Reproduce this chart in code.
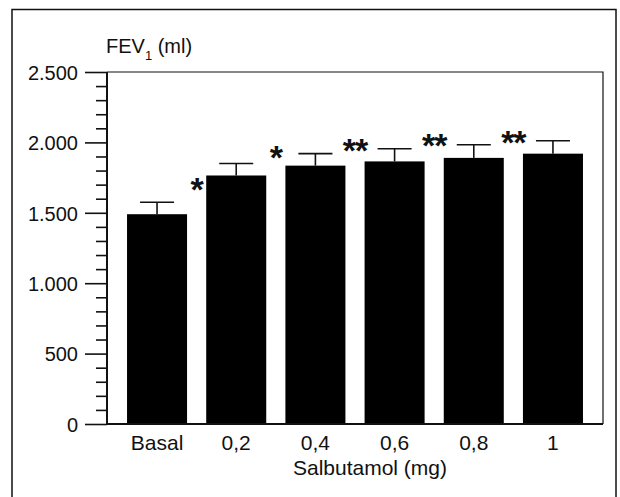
<!DOCTYPE html>
<html lang="en">
  <head>
    <meta charset="UTF-8" />
    <title>FEV1 Salbutamol</title>
    <script src="https://cdn.jsdelivr.net/npm/d3@7"></script>
    <style>
      html,
      body {
        margin: 0;
        padding: 0;
        background: #fff;
      }
      text {
        font-family: 'Liberation Sans', Arial, sans-serif;
        font-size: 21px;
        fill: #111;
      }
    </style>
  </head>
  <body>
    <script>
      // doses and mean FEV1 (ml) with SEM
      const doses = ['Basal', '0,2', '0,4', '0,6', '0,8', '1'];
      const fev1 = [1490, 1765, 1835, 1865, 1890, 1920];
      const sem = [85, 85, 85, 90, 93, 92];
      // significance marks and the level (ml) where each one sits
      const signif = ['', '*', '*', '**', '**', '**'];
      const signifLevel = [0, 1720, 1945, 1995, 2030, 2055];
      const yTicks = [0, 500, 1000, 1500, 2000, 2500];
      const yTickLabels = ['0', '500', '1.000', '1.500', '2.000', '2.500'];

      const width = 620,
        height = 497;

      const svg = d3
        .select('body')
        .append('svg')
        .attr('width', width)
        .attr('height', height);

      // outer frame, runs off the bottom of the picture
      svg
        .append('rect')
        .attr('x', 12)
        .attr('y', 9.5)
        .attr('width', 604)
        .attr('height', 520)
        .style('fill', 'none')
        .style('stroke', '#111')
        .style('stroke-width', 1.5);

      const plot = { left: 107, right: 603, top: 72, bottom: 424 };

      const x = d3
        .scaleBand()
        .domain(doses)
        .range([plot.left, plot.right])
        .paddingInner(0.242)
        .paddingOuter(0.253);

      const y = d3
        .scaleLinear()
        .domain([0, 2500])
        .range([plot.bottom, plot.top]);

      // plot box: top and right thin
      svg
        .append('path')
        .attr('d', `M${plot.left},${plot.top}H${plot.right}V${plot.bottom}`)
        .style('fill', 'none')
        .style('stroke', '#111')
        .style('stroke-width', 1.2);

      // bars
      svg
        .selectAll('.bar')
        .data(doses)
        .enter()
        .append('rect')
        .attr('class', 'bar')
        .attr('x', d => x(d))
        .attr('width', x.bandwidth())
        .attr('y', (d, i) => y(fev1[i]))
        .attr('height', (d, i) => y(0) - y(fev1[i]))
        .style('fill', '#000');

      // error bars (upward only)
      const err = svg
        .append('g')
        .style('stroke', '#111')
        .style('stroke-width', 1.6);
      doses.forEach((d, i) => {
        const cx = x(d) + x.bandwidth() / 2;
        err
          .append('line')
          .attr('x1', cx)
          .attr('x2', cx)
          .attr('y1', y(fev1[i]))
          .attr('y2', y(fev1[i] + sem[i]));
        err
          .append('line')
          .attr('x1', cx - 17)
          .attr('x2', cx + 17)
          .attr('y1', y(fev1[i] + sem[i]))
          .attr('y2', y(fev1[i] + sem[i]));
      });

      // significance stars, in the gap left of each bar
      const gap = x.step() - x.bandwidth();
      svg
        .selectAll('.sig')
        .data(doses)
        .enter()
        .append('text')
        .attr('class', 'sig')
        .attr('x', d => x(d) - gap / 2)
        .attr('y', (d, i) => y(signifLevel[i]) + 19)
        .attr('text-anchor', 'middle')
        .style('font-size', '34px')
        .style('font-weight', 'bold')
        .style('letter-spacing', '-1px')
        .text((d, i) => signif[i]);

      // y axis
      const yAxis = svg
        .append('g')
        .attr('transform', `translate(${plot.left},0)`);
      yAxis
        .append('g')
        .call(
          d3
            .axisLeft(y)
            .tickValues(d3.range(0, 2501, 100).filter(v => v % 500 !== 0))
            .tickSize(11)
            .tickFormat(''),
        )
        .call(g => g.select('.domain').remove());
      yAxis
        .append('g')
        .call(
          d3
            .axisLeft(y)
            .tickValues(yTicks)
            .tickSize(22)
            .tickPadding(7)
            .tickFormat((d, i) => yTickLabels[i]),
        )
        .call(g => g.select('.domain').remove());
      yAxis
        .selectAll('line')
        .style('stroke', '#111')
        .style('stroke-width', 1.6);
      yAxis
        .selectAll('text')
        .attr('dy', '0.36em')
        .style('font-size', '20px')
        .style('fill', '#111');
      yAxis
        .append('line')
        .attr('y1', plot.top)
        .attr('y2', plot.bottom + 1)
        .style('stroke', '#111')
        .style('stroke-width', 2);

      // x axis line and labels
      svg
        .append('line')
        .attr('x1', plot.left)
        .attr('x2', plot.right)
        .attr('y1', plot.bottom)
        .attr('y2', plot.bottom)
        .style('stroke', '#111')
        .style('stroke-width', 2);

      svg
        .selectAll('.xlab')
        .data(doses)
        .enter()
        .append('text')
        .attr('class', 'xlab')
        .attr('x', d => x(d) + x.bandwidth() / 2)
        .attr('y', 450)
        .attr('text-anchor', 'middle')
        .text(d => d);

      svg
        .append('text')
        .attr('x', 370)
        .attr('y', 475)
        .attr('text-anchor', 'middle')
        .text('Salbutamol (mg)');

      const yTitle = svg
        .append('text')
        .attr('x', 106)
        .attr('y', 53)
        .style('font-size', '20px');
      yTitle.append('tspan').text('FEV');
      yTitle
        .append('tspan')
        .attr('dy', 7)
        .style('font-size', '13px')
        .style('fill', '#111')
        .text('1');
      yTitle
        .append('tspan')
        .attr('dy', -7)
        .text(' (ml)');
    </script>
  </body>
</html>
